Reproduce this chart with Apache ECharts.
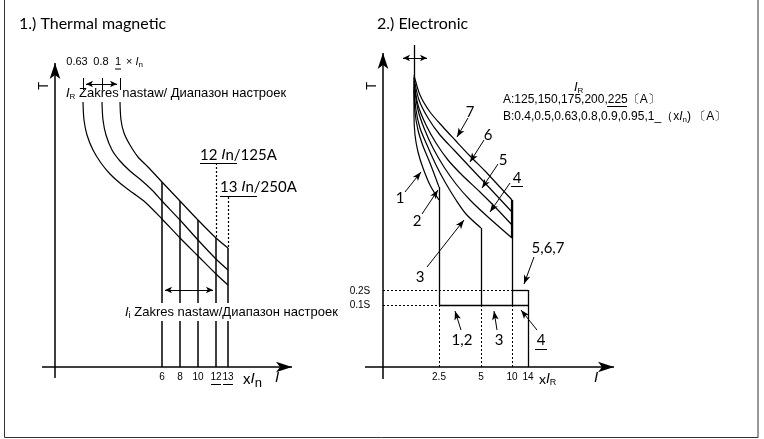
<!DOCTYPE html>
<html>
<head>
<meta charset="utf-8">
<script src="https://cdn.jsdelivr.net/npm/echarts@6/dist/echarts.min.js"></script>
<style>
html,body{margin:0;padding:0;background:#fff;}
#chart{width:764px;height:439px;}
</style>
</head>
<body>
<div id="chart"></div>
<script>
// schematic units: x = distance from the T axis, y = height above the I axis

// 1.) thermal magnetic
var thermalSettings = ['0.63', '0.8', '1'];
var thermalCurve063 = [[28,265],[29,247],[32,232],[38,217],[46,204],[55,193],[66,183],[78,174],[90,165],[107,148],[125,129],[143,111],[161,93],[173,82]];
var thermalCurve08 = [[47,265],[48,247],[51,232],[57,217],[65,206],[75,196],[86,187],[97,177],[107,166],[125,147],[143,127],[161,108],[173,97]];
var thermalCurve1 = [[65,265],[66,247],[69,234],[75,222],[83,210],[93,200],[107,185],[125,166],[143,147],[161,129],[173,119]];
var magTickLabels = ['6', '8', '10', '12', '13'];
var magTickPos = [107, 125, 143, 161, 173];
var magTripTop = [185, 166, 147, 129, 119];

// 2.) electronic
var elCurves = [
  [[31,290],[31,252],[32,232],[35,215],[40,199],[47,182],[56,167]],
  [[31,277],[32,255],[35,237],[40,221],[47,204],[56,180]],
  [[31,280],[33,257],[37,239],[44,222],[53,202],[62,185],[73,167],[83,153],[98,139]],
  [[31,283],[35,257],[41,239],[50,219],[61,200],[73,183],[87,167],[105,150],[129,129]],
  [[31,286],[35,262],[43,242],[53,224],[65,207],[79,192],[97,175],[113,159],[129,142]],
  [[31,289],[36,267],[45,249],[57,232],[71,217],[85,202],[101,185],[115,170],[129,155]],
  [[31,292],[37,272],[47,255],[60,240],[72,227],[87,211],[102,196],[115,182],[129,167]]
];
var elTickLabels = ['2.5', '5', '10', '14'];
var elTickPos = [56, 98, 129, 145];
var elTimeLabels = ['0.1S', '0.2S'];
var elTimePos = [62, 77];

var chart = echarts.init(document.getElementById('chart'));
var FONT = "'Liberation Sans', Arial, sans-serif";
var NARROW = "'Liberation Sans Narrow', 'Liberation Sans', sans-serif";
var HUM = "Lato, 'Liberation Sans', sans-serif";

function curve(xi, data) {
  return {
    type: 'line', xAxisIndex: xi, yAxisIndex: xi, data: data,
    smooth: 0.3, symbol: 'none', silent: true, animation: false, z: 3,
    lineStyle: {color: '#000', width: 1.2}
  };
}

function segs(xi, list, opt) {
  opt = opt || {};
  return {
    type: 'line', xAxisIndex: xi, yAxisIndex: xi, data: [], silent: true, animation: false,
    markLine: {
      silent: true, animation: false,
      symbol: opt.symbol || ['none', 'none'],
      symbolSize: opt.symbolSize || [6, 10],
      label: {show: false},
      emphasis: {disabled: true},
      lineStyle: {color: '#000', width: opt.width || 1.2, type: opt.type || 'solid', opacity: 1},
      data: list.map(function (s) {
        return [{coord: [s[0], s[1]]}, {coord: [s[2], s[3]]}];
      })
    }
  };
}

var series = [];
// left panel
series.push(curve(0, thermalCurve063), curve(0, thermalCurve08), curve(0, thermalCurve1));
series.push(segs(0, magTickPos.map(function (x, i) { return [x, magTripTop[i], x, 0]; }), {width: 1.5}));
series.push(segs(0, [[0, -11, 0, 304], [-13, 0, 237, 0]], {width: 1.5, symbol: ['none', 'arrow'], symbolSize: [8, 16]}));
series.push(segs(0, [[28, 289, 28, 277], [47, 289, 47, 277], [65, 289, 65, 277]], {width: 1}));
series.push(segs(0, [[31, 283, 62, 283], [110, 77, 158, 77]], {width: 1, symbol: ['arrow', 'arrow'], symbolSize: [5, 7]}));
series.push(segs(0, [[161, 204, 161, 129], [173, 170, 173, 119]], {width: 1.2, type: [2, 2]}));
// right panel
elCurves.forEach(function (c) { series.push(curve(1, c)); });
series.push(segs(1, [[31, 322, 31, 290], [56, 180, 56, 62], [98, 139, 98, 62], [129, 167, 129, 62],
  [145, 77, 145, 0], [56, 62, 145, 62], [129, 77, 145, 77]], {width: 1.3}));
series.push(segs(1, [[129, 167, 129, 129]], {width: 2.2}));
series.push(segs(1, [[0, 62, 56, 62], [0, 77, 129, 77], [56, 62, 56, 0], [98, 62, 98, 0], [129, 62, 129, 0]], {width: 1, type: [2, 2]}));
series.push(segs(1, [[0, -12, 0, 314], [-18, 0, 231, 0]], {width: 1.5, symbol: ['none', 'arrow'], symbolSize: [8, 16]}));
series.push(segs(1, [[20, 309, 44, 309]], {width: 1, symbol: ['arrow', 'arrow'], symbolSize: [5, 7]}));
series.push(segs(1, [
  [22, 175, 38, 195], [39, 153, 55, 177], [44, 100, 81, 147], [127, 184, 107, 155],
  [115, 203, 99, 179], [101, 227, 87, 205], [85, 249, 74, 230], [151, 110, 141, 83],
  [78, 37, 72, 56], [114, 37, 111, 56], [154, 37, 138, 57]
], {width: 1, symbol: ['none', 'arrow'], symbolSize: [5, 9]}));

function tickAxis(grid, min, max, pos, labels) {
  return {
    gridIndex: grid, type: 'value', min: min, max: max,
    axisLine: {show: false, onZero: false}, axisTick: {show: false}, splitLine: {show: false},
    axisLabel: {
      customValues: pos, margin: -13, fontSize: 10, color: '#000', fontFamily: NARROW,
      hideOverlap: false, showMinLabel: true, showMaxLabel: true,
      formatter: function (v) { return labels[pos.indexOf(v)]; }
    }
  };
}

function txt(x, y, text, o) {
  o = o || {};
  var st = {
    text: text, fill: '#000',
    fontSize: o.size || 13, fontFamily: o.family || FONT, fontStyle: o.style || 'normal',
    align: o.align || 'left', textAlign: o.align || 'left',
    verticalAlign: 'middle', textVerticalAlign: 'middle'
  };
  if (o.rich) st.rich = o.rich;
  if (o.bg) { st.backgroundColor = o.bg; st.padding = [1, 2]; }
  return {type: 'text', x: x, y: y, z: 50, rotation: o.rot || 0, style: st};
}
function uline(x1, x2, y) {
  return {type: 'line', z: 50, shape: {x1: x1, y1: y, x2: x2, y2: y}, style: {stroke: '#000', lineWidth: 1}};
}
function ir(size, sub) {
  return {i: {fontStyle: 'italic', fontSize: size}, s: {fontSize: sub, padding: [Math.round(size / 2), 0, 0, 0]}};
}

chart.setOption({
  animation: false,
  grid: [
    {left: 35, top: 40, width: 270, height: 345},
    {left: 363, top: 40, width: 260, height: 345}
  ],
  xAxis: [
    tickAxis(0, -20, 250, magTickPos, magTickLabels),
    tickAxis(1, -20, 240, elTickPos, elTickLabels)
  ],
  yAxis: [
    {gridIndex: 0, type: 'value', min: -18, max: 327, show: false},
    {gridIndex: 1, type: 'value', min: -18, max: 327, show: false}
  ],
  series: series,
  graphic: [
    {type: 'rect', z: 40, shape: {x: 4.5, y: -2, width: 753.5, height: 439.5}, style: {fill: 'none', stroke: '#333', lineWidth: 1}},
    txt(19, 24, '1.) Thermal magnetic', {size: 16, family: HUM}),
    txt(377, 24, '2.) Electronic', {size: 16, family: HUM}),
    txt(44, 86, 'T', {size: 13, family: HUM, align: 'center', rot: Math.PI / 2}),
    txt(372, 86, 'T', {size: 13, family: HUM, align: 'center', rot: Math.PI / 2}),
    // IR settings above the thermal curves
    txt(77, 62, thermalSettings[0], {size: 11, family: NARROW, align: 'center'}),
    txt(101, 62, thermalSettings[1], {size: 11, family: NARROW, align: 'center'}),
    txt(118, 62, thermalSettings[2], {size: 11, family: NARROW, align: 'center'}),
    uline(115, 121, 69),
    txt(126, 62, '× {i|I}{s|n}', {size: 11, family: NARROW, rich: ir(11, 8)}),
    txt(66, 93, '{i|I}{s|R} Zakres nastaw/ Диапазон настроек', {size: 13, rich: ir(13, 8)}),
    txt(200, 155, '12 {i|I}n/125A', {size: 15, family: HUM, rich: {i: {fontStyle: 'italic', fontSize: 15}}}),
    uline(200, 237, 163.5),
    txt(220, 187, '13 {i|I}n/250A', {size: 15, family: HUM, rich: {i: {fontStyle: 'italic', fontSize: 15}}}),
    uline(220, 257, 196.5),
    txt(123, 312, '{i|I}{s|i} Zakres nastaw/Диапазон настроек', {size: 13, rich: ir(13, 9), bg: '#fff'}),
    uline(211, 221, 384.5),
    uline(223, 233, 384.5),
    txt(243, 379, 'x{i|I}{s|n}', {size: 15, family: HUM, rich: ir(15, 13)}),
    txt(277, 378, 'I', {size: 15, style: 'italic', align: 'center'}),
    // electronic
    txt(360, 291, elTimeLabels[1], {size: 10, family: NARROW, align: 'center'}),
    txt(360, 305, elTimeLabels[0], {size: 10, family: NARROW, align: 'center'}),
    txt(539, 379, 'x{i|I}{s|R}', {size: 14, family: HUM, rich: ir(14, 9)}),
    txt(596, 378, 'I', {size: 15, style: 'italic', align: 'center'}),
    txt(400, 198, '1', {size: 15, family: HUM, align: 'center'}),
    txt(417, 221, '2', {size: 15, family: HUM, align: 'center'}),
    txt(420, 277, '3', {size: 15, family: HUM, align: 'center'}),
    txt(517, 178, '4', {size: 15, family: HUM, align: 'center'}),
    uline(511, 523, 186.5),
    txt(503, 160, '5', {size: 15, family: HUM, align: 'center'}),
    txt(488, 135, '6', {size: 15, family: HUM, align: 'center'}),
    txt(470, 112, '7', {size: 15, family: HUM, align: 'center'}),
    txt(548, 248, '5,6,7', {size: 15, family: HUM, align: 'center'}),
    txt(462, 340, '1,2', {size: 15, family: HUM, align: 'center'}),
    txt(499, 340, '3', {size: 15, family: HUM, align: 'center'}),
    txt(541, 340, '4', {size: 15, family: HUM, align: 'center'}),
    uline(535, 547, 349.5),
    txt(574, 87, '{i|I}{s|R}', {size: 13, rich: ir(13, 8)}),
    txt(503, 100, 'A:125,150,175,200,225〔A〕', {size: 12}),
    uline(607, 627, 106.5),
    txt(503, 117, 'B:0.4,0.5,0.63,0.8,0.9,0.95,1_（x{i|I}{s|n}) 〔A〕', {size: 12, rich: ir(12, 8)})
  ]
});
</script>
</body>
</html>
